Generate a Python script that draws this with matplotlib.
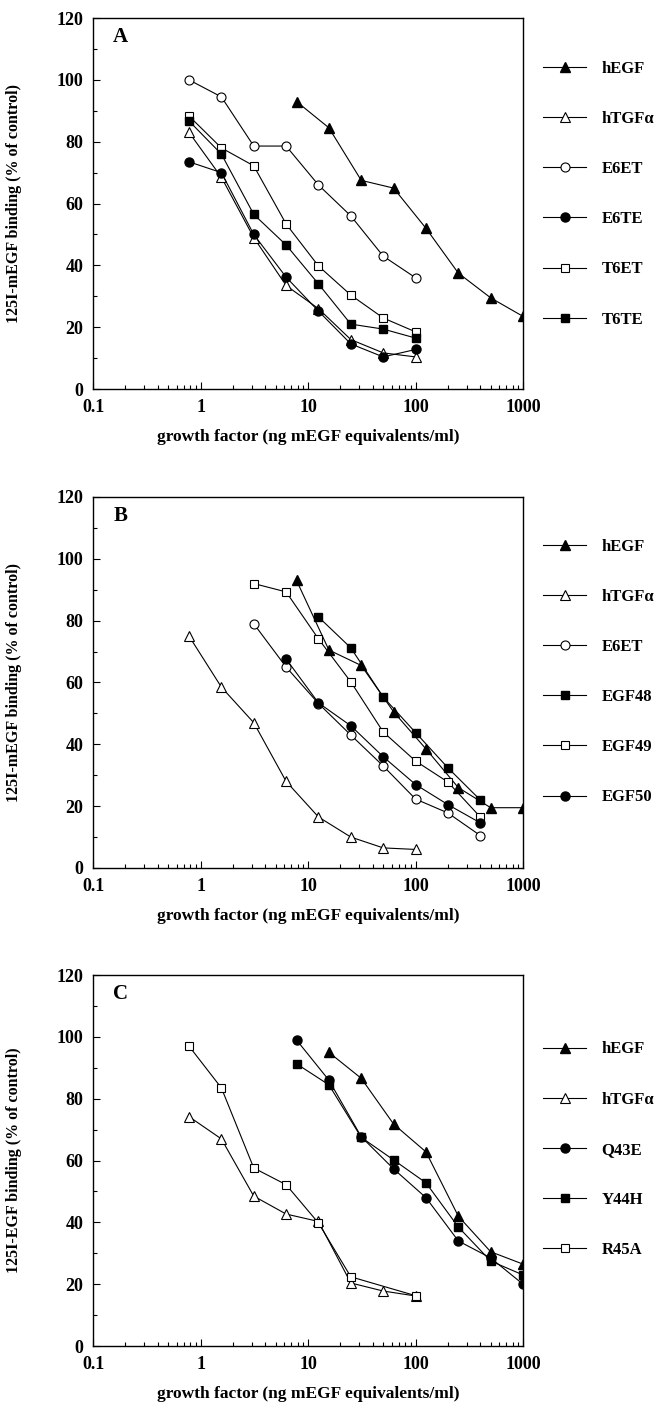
import matplotlib
matplotlib.use("Agg")
import matplotlib.pyplot as plt
from matplotlib.ticker import LogLocator, MultipleLocator, FixedLocator, FixedFormatter

plt.rcParams['font.family'] = 'serif'
plt.rcParams['font.serif'] = ['Liberation Serif', 'DejaVu Serif']
plt.rcParams['font.weight'] = 'bold'

# dilution series (ng mEGF equivalents/ml)
low8 = [0.78125, 1.5625, 3.125, 6.25, 12.5, 25, 50, 100]
high8 = [7.8125, 15.625, 31.25, 62.5, 125, 250, 500, 1000]

# ---- panel A ----
a_hegf = [93, 84.5, 67.5, 65, 52, 37.5, 29.5, 23.5]
a_htgf = [83, 68.5, 49, 33.5, 26, 16, 11.7, 10.4]
a_e6et = [100, 94.5, 78.6, 78.6, 66, 56, 43, 36]
a_e6te = [73.5, 70, 50, 36.2, 25.2, 14.6, 10.4, 12.8]
a_t6et = [88.3, 78, 72.2, 53.4, 39.8, 30.4, 23, 18.5]
a_t6te = [86.7, 76, 56.5, 46.6, 34, 21, 19.4, 16.5]

# ---- panel B ----
b_hegf_x = [7.8125, 15.625, 31.25, 62.5, 125, 250, 500, 1000]
b_hegf = [93, 70.5, 65.5, 50.5, 38.5, 26, 19.5, 19.5]
b_htgf = [75, 58.5, 47, 28, 16.5, 10, 6.5, 6]
b_e6et_x = [3.125, 6.25, 12.5, 25, 50, 100, 200, 400]
b_e6et = [79, 65, 53.2, 43, 33, 22.3, 17.8, 10.5]
b_egf48_x = [12.5, 25, 50, 100, 200, 400]
b_egf48 = [81.2, 71.2, 55.3, 43.8, 32.4, 22]
b_egf49_x = [3.125, 6.25, 12.5, 25, 50, 100, 200, 400]
b_egf49 = [92, 89.3, 74.1, 60.2, 44, 34.6, 27.8, 16.5]
b_egf50_x = [6.25, 12.5, 25, 50, 100, 200, 400]
b_egf50 = [67.6, 53.4, 46, 36, 27, 20.5, 14.6]

# ---- panel C ----
c_hegf_x = [15.625, 31.25, 62.5, 125, 250, 500, 1000]
c_hegf = [95, 86.6, 71.8, 62.8, 42, 30.5, 26.5]
c_htgf = [74.2, 67, 48.5, 42.7, 40.3, 20.4, 17.8, 16.2]
c_q43e = [99, 86, 67.7, 57.3, 48, 34, 28.5, 20]
c_y44h = [91.3, 84.5, 67.5, 60.2, 52.8, 38.5, 27.5, 23]
c_r45a_x = [0.78125, 1.5625, 3.125, 6.25, 12.5, 25, 100]
c_r45a = [97, 83.5, 57.6, 52.2, 39.8, 22.4, 16.3]

tri_f = dict(marker='^', mfc='black', mec='black', ms=7)
tri_o = dict(marker='^', mfc='white', mec='black', ms=7, mew=0.8)
cir_f = dict(marker='o', mfc='black', mec='black', ms=6.5)
cir_o = dict(marker='o', mfc='white', mec='black', ms=6.5, mew=0.8)
sq_f = dict(marker='s', mfc='black', mec='black', ms=6)
sq_o = dict(marker='s', mfc='white', mec='black', ms=6, mew=0.8)

fig = plt.figure(figsize=(6.6, 14.22), dpi=100)

bottoms = [0.7264, 0.3896, 0.0534]
axes = [fig.add_axes([0.141, b, 0.6515, 0.2609]) for b in bottoms]

panels = [
    ('A', '125I-mEGF binding (% of control)', 0.885, [
        (high8, a_hegf, tri_f, 'hEGF'),
        (low8, a_htgf, tri_o, 'hTGF\u03b1'),
        (low8, a_e6et, cir_o, 'E6ET'),
        (low8, a_e6te, cir_f, 'E6TE'),
        (low8, a_t6et, sq_o, 'T6ET'),
        (low8, a_t6te, sq_f, 'T6TE'),
    ]),
    ('B', '125I-mEGF binding (% of control)', 0.888, [
        (b_hegf_x, b_hegf, tri_f, 'hEGF'),
        (low8, b_htgf, tri_o, 'hTGF\u03b1'),
        (b_e6et_x, b_e6et, cir_o, 'E6ET'),
        (b_egf48_x, b_egf48, sq_f, 'EGF48'),
        (b_egf49_x, b_egf49, sq_o, 'EGF49'),
        (b_egf50_x, b_egf50, cir_f, 'EGF50'),
    ]),
    ('C', '125I-EGF binding (% of control)', 0.821, [
        (c_hegf_x, c_hegf, tri_f, 'hEGF'),
        (low8, c_htgf, tri_o, 'hTGF\u03b1'),
        (high8, c_q43e, cir_f, 'Q43E'),
        (high8, c_y44h, sq_f, 'Y44H'),
        (c_r45a_x, c_r45a, sq_o, 'R45A'),
    ]),
]

for ax, (letter, ylab, legtop, series) in zip(axes, panels):
    for xs, ys, style, name in series:
        ax.plot(xs, ys, color='black', lw=0.8, label=name, **style)

    ax.set_xscale('log')
    ax.set_xlim(0.1, 1000)
    ax.set_ylim(0, 120)
    ax.xaxis.set_major_locator(FixedLocator([0.1, 1, 10, 100, 1000]))
    ax.xaxis.set_major_formatter(FixedFormatter(['0.1', '1', '10', '100', '1000']))
    ax.xaxis.set_minor_locator(LogLocator(base=10, subs=range(2, 10)))
    ax.yaxis.set_major_locator(MultipleLocator(20))
    ax.yaxis.set_minor_locator(MultipleLocator(10))
    ax.tick_params(which='both', direction='in', top=False, right=False, width=0.8)
    ax.tick_params(which='major', length=5, labelsize=13, pad=7)
    ax.tick_params(which='minor', length=3)
    for lbl in ax.get_xticklabels() + ax.get_yticklabels():
        lbl.set_fontweight('bold')
    for sp in ax.spines.values():
        sp.set_linewidth(1.0)

    ax.set_ylabel(ylab, fontsize=11.5, fontweight='bold')
    ax.yaxis.set_label_coords(-0.165, 0.5)
    ax.set_xlabel('growth factor (ng mEGF equivalents/ml)', fontsize=12.5, fontweight='bold')
    ax.xaxis.set_label_coords(0.5, -0.108)

    ax.text(0.063, 0.949, letter, transform=ax.transAxes, fontsize=15,
            fontweight='bold', ha='center', va='center')

    ax.legend(loc='upper left', bbox_to_anchor=(1.0465, legtop), frameon=False,
              numpoints=1, handlelength=2.6, handletextpad=0.9, labelspacing=2.05,
              borderpad=0, borderaxespad=0, prop={'size': 12, 'weight': 'bold'})

fig.savefig('out.png', dpi=100)
